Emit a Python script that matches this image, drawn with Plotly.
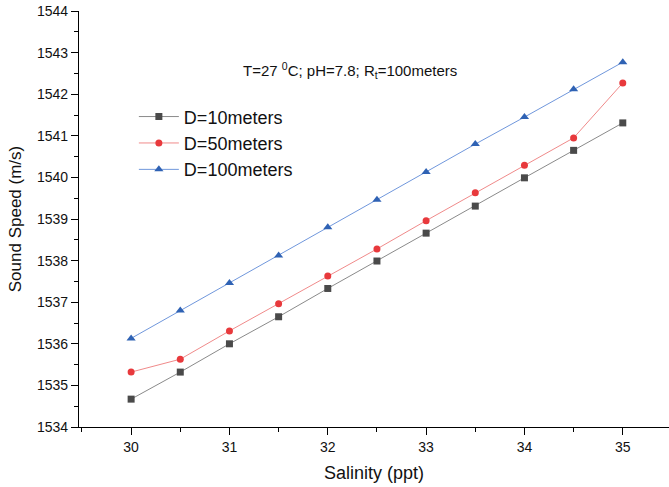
import plotly.graph_objects as go

salinity = [30, 30.5, 31, 31.5, 32, 32.5, 33, 33.5, 34, 34.5, 35]
d10 = [1534.67, 1535.32, 1536.00, 1536.65, 1537.33, 1537.99, 1538.66, 1539.31, 1539.99, 1540.65, 1541.31]
d50 = [1535.32, 1535.63, 1536.31, 1536.96, 1537.63, 1538.28, 1538.96, 1539.63, 1540.29, 1540.95, 1542.27]
d100 = [1536.13, 1536.80, 1537.46, 1538.12, 1538.80, 1539.46, 1540.13, 1540.80, 1541.45, 1542.12, 1542.77]
x_ticks = [30, 31, 32, 33, 34, 35]
y_ticks = [1534, 1535, 1536, 1537, 1538, 1539, 1540, 1541, 1542, 1543, 1544]

FONT = "Liberation Sans, Arial, sans-serif"

fig = go.Figure()
fig.add_trace(go.Scatter(x=salinity, y=d10, name="D=10meters", mode="lines+markers",
                         line=dict(color="#8a8a8a", width=1),
                         marker=dict(symbol="square", size=7, color="#4a4a4a")))
fig.add_trace(go.Scatter(x=salinity, y=d50, name="D=50meters", mode="lines+markers",
                         line=dict(color="#f08a8a", width=1),
                         marker=dict(symbol="circle", size=7, color="#e8393c")))
fig.add_trace(go.Scatter(x=salinity, y=d100, name="D=100meters", mode="lines+markers",
                         line=dict(color="#7097dc", width=1),
                         marker=dict(symbol="triangle-up", size=8, color="#2f62b4")))

fig.add_annotation(text="T=27 <sup>0</sup>C; pH=7.8; R<sub>t</sub>=100meters",
                   x=0.459, y=0.887, xref="paper", yref="paper", showarrow=False,
                   font=dict(family=FONT, size=15, color="#111"))

axis_common = dict(showgrid=False, zeroline=False, showline=True, linecolor="black",
                   linewidth=1.3, ticks="outside", ticklen=7, tickwidth=1.3, tickcolor="black",
                   automargin=False, ticklabeloverflow="allow",
                   tickfont=dict(family=FONT, size=14, color="#111"),
                   minor=dict(ticks="outside", ticklen=4, tickwidth=1.3, tickcolor="black", dtick=0.5))

fig.update_xaxes(range=[29.47, 35.47], tickvals=x_ticks, ticktext=[str(v) for v in x_ticks],
                 title=dict(text="Salinity (ppt)", font=dict(family=FONT, size=18, color="#111"), standoff=12),
                 **axis_common)
fig.update_yaxes(range=[1534, 1544], tickvals=y_ticks, ticktext=[str(v) for v in y_ticks],
                 title=dict(text="Sound Speed (m/s)", font=dict(family=FONT, size=17, color="#111"), standoff=10),
                 **axis_common)

fig.update_layout(width=669, height=487, margin=dict(l=79, r=0, t=11, b=60, autoexpand=False),
                  plot_bgcolor="white", paper_bgcolor="white",
                  font=dict(family=FONT),
                  legend=dict(x=0.093, y=0.79, xanchor="left", yanchor="top",
                              bgcolor="rgba(0,0,0,0)", font=dict(family=FONT, size=18, color="#111"),
                              itemwidth=40, tracegroupgap=0),
                  showlegend=True)

fig.write_html("out.html", config={"displayModeBar": False},
               post_script="document.body.style.margin='0';")
